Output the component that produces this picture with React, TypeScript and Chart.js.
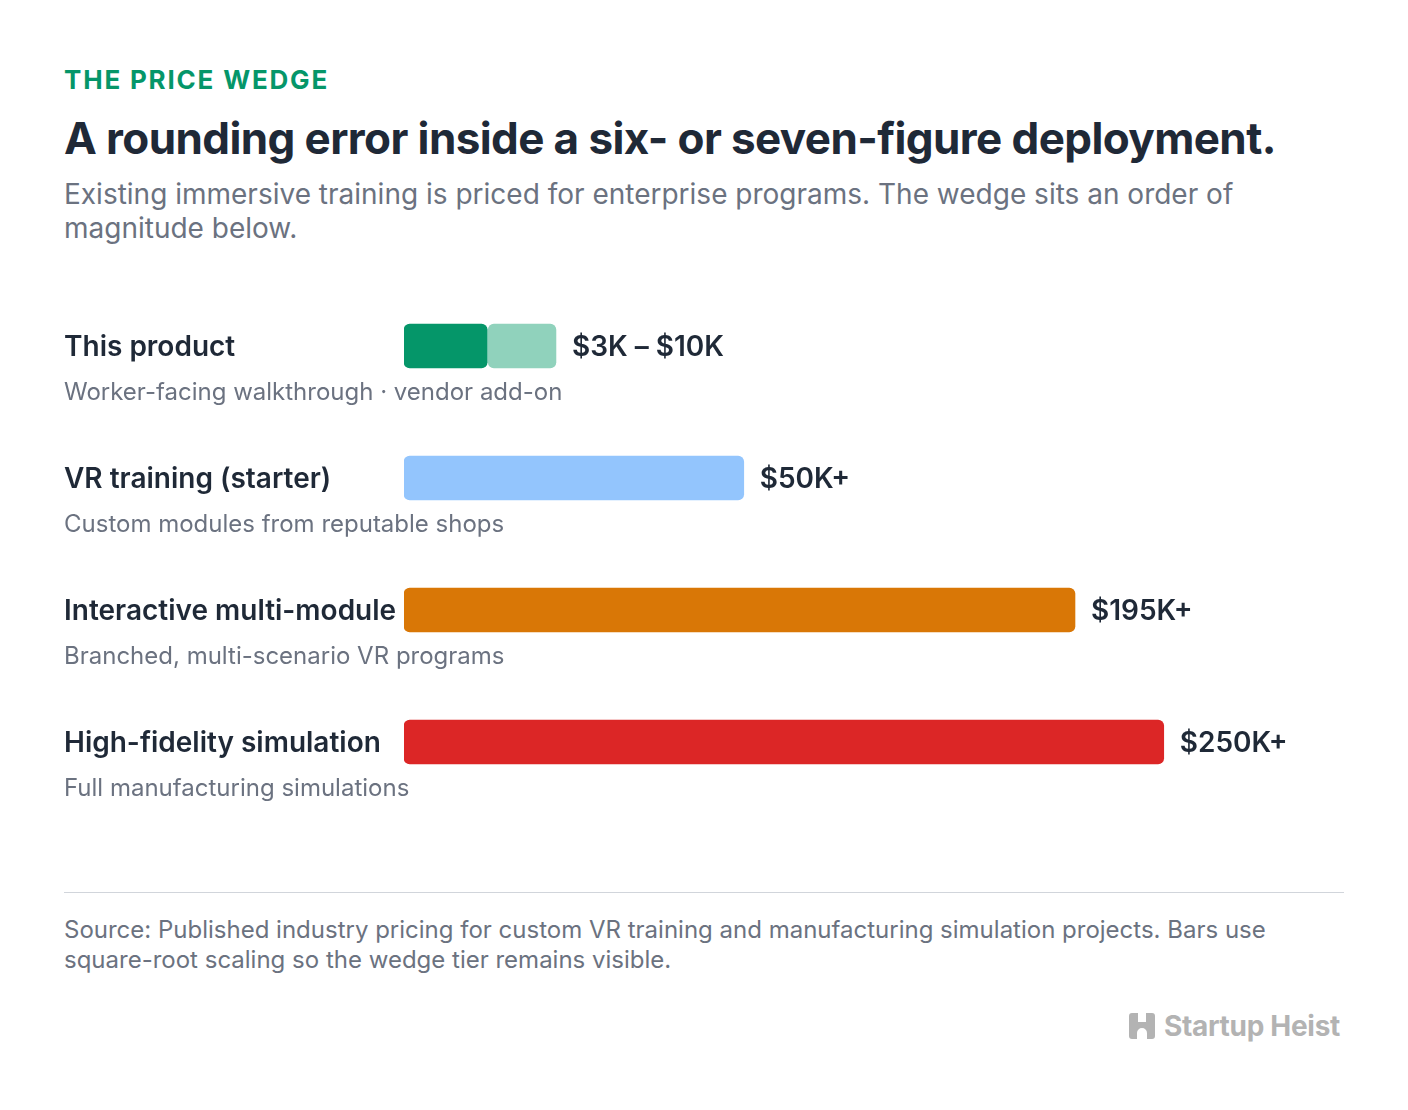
import React, { useEffect, useRef } from "react";
import { Chart, registerables } from "chart.js";

Chart.register(...registerables);

// ---- data ----
const categories = [
  "This product",
  "VR training (starter)",
  "Interactive multi-module",
  "High-fidelity simulation",
];
const descriptions = [
  "Worker-facing walkthrough · vendor add-on",
  "Custom modules from reputable shops",
  "Branched, multi-scenario VR programs",
  "Full manufacturing simulations",
];
const lowPriceK = [3, 50, 195, 250];
const highPriceK: (number | null)[] = [10, null, null, null];
const valueLabels = ["$3K – $10K", "$50K+", "$195K+", "$250K+"];
const barColors = ["#059669", "#93c5fd", "#d97706", "#dc2626"];
const rangeColor = "#90d2bc";
const axisMaxK = 400; // square-root axis maximum

const FONT = "Inter, 'Noto Sans', sans-serif";

const labelPlugin = {
  id: "rowLabels",
  afterDatasetsDraw(chart: any) {
    const ctx = chart.ctx;
    const xs = chart.scales.x;
    const ys = chart.scales.y;
    ctx.save();
    categories.forEach((cat, i) => {
      const yc = ys.getPixelForValue(i);
      ctx.textBaseline = "middle";
      ctx.textAlign = "left";
      ctx.fillStyle = "#1f2937";
      ctx.font = `600 28px ${FONT}`;
      ctx.fillText(cat, 64, yc + 2);
      ctx.fillStyle = "#6b7280";
      ctx.font = `400 24px ${FONT}`;
      ctx.fillText(descriptions[i], 64, yc + 47);
      const endK = highPriceK[i] ?? lowPriceK[i];
      const xe = xs.getPixelForValue(Math.sqrt(endK));
      ctx.fillStyle = "#1f2937";
      ctx.font = `600 28px ${FONT}`;
      ctx.fillText(valueLabels[i], xe + 16, yc + 2);
    });
    ctx.restore();
  },
};

function BarChart() {
  const ref = useRef<HTMLCanvasElement | null>(null);
  useEffect(() => {
    if (!ref.current) return;
    const chart = new Chart(ref.current, {
      type: "bar",
      data: {
        labels: categories,
        datasets: [
          {
            label: "base",
            data: lowPriceK.map((v) => [0, Math.sqrt(v)]) as any,
            backgroundColor: barColors,
            borderRadius: 6,
            borderSkipped: false,
            barThickness: 44,
            grouped: false,
          } as any,
          {
            label: "range",
            data: highPriceK.map((v, i) =>
              v == null ? null : [Math.sqrt(lowPriceK[i]) + 0.02, Math.sqrt(v)]
            ) as any,
            backgroundColor: rangeColor,
            borderRadius: 6,
            borderSkipped: false,
            barThickness: 44,
            grouped: false,
          } as any,
        ],
      },
      options: {
        animation: false,
        responsive: false,
        indexAxis: "y",
        layout: { padding: { left: 404, right: 43, top: 20, bottom: 22 } },
        plugins: { legend: { display: false }, tooltip: { enabled: false } },
        scales: {
          x: { type: "linear", min: 0, max: Math.sqrt(axisMaxK), display: false },
          y: { type: "category", display: false },
        },
      },
      plugins: [labelPlugin],
    } as any);
    return () => chart.destroy();
  }, []);
  return (
    <canvas
      ref={ref}
      width={1408}
      height={570}
      style={{ position: "absolute", left: 0, top: 260, width: 1408, height: 570 }}
    />
  );
}

export default function App() {
  return (
    <div
      style={{
        position: "absolute",
        left: 0,
        top: 0,
        width: 1408,
        height: 1110,
        background: "#ffffff",
        fontFamily: FONT,
        overflow: "hidden",
      }}
    >
      <div
        style={{
          position: "absolute",
          left: 64,
          top: 65,
          lineHeight: "30px",
          fontSize: 26,
          fontWeight: 700,
          letterSpacing: 1.8,
          color: "#059669",
        }}
      >
        THE PRICE WEDGE
      </div>
      <div
        style={{
          position: "absolute",
          left: 64,
          top: 112,
          width: 1300,
          lineHeight: "52px",
          fontSize: 44,
          fontWeight: 700,
          letterSpacing: -0.6,
          color: "#1f2937",
        }}
      >
        A rounding error inside a six- or seven-figure deployment.
      </div>
      <div
        style={{
          position: "absolute",
          left: 64,
          top: 177,
          width: 1280,
          lineHeight: "34px",
          fontSize: 28,
          fontWeight: 400,
          color: "#6b7280",
        }}
      >
        Existing immersive training is priced for enterprise programs. The wedge sits an order of
        magnitude below.
      </div>
      <BarChart />
      <div
        style={{
          position: "absolute",
          left: 64,
          top: 892,
          width: 1280,
          height: 1,
          background: "#d1d5db",
        }}
      />
      <div
        style={{
          position: "absolute",
          left: 64,
          top: 915,
          width: 1280,
          lineHeight: "30px",
          fontSize: 24,
          color: "#6b7280",
        }}
      >
        Source: Published industry pricing for custom VR training and manufacturing simulation
        projects. Bars use square-root scaling so the wedge tier remains visible.
      </div>
      <div
        style={{
          position: "absolute",
          right: 68,
          top: 1010,
          height: 32,
          display: "flex",
          alignItems: "center",
          gap: 9,
          color: "#b3b3b3",
          fontSize: 28,
          fontWeight: 700,
          letterSpacing: -0.3,
        }}
      >
        <svg width="26" height="26" viewBox="0 0 26 26">
          <path
            d="M3 0 H9 V9 H17 V0 H23 A3 3 0 0 1 26 3 V23 A3 3 0 0 1 23 26 H18 V20 A5 5 0 0 0 8 20 V26 H3 A3 3 0 0 1 0 23 V3 A3 3 0 0 1 3 0 Z"
            fill="#b3b3b3"
          />
        </svg>
        <span>Startup Heist</span>
      </div>
    </div>
  );
}
